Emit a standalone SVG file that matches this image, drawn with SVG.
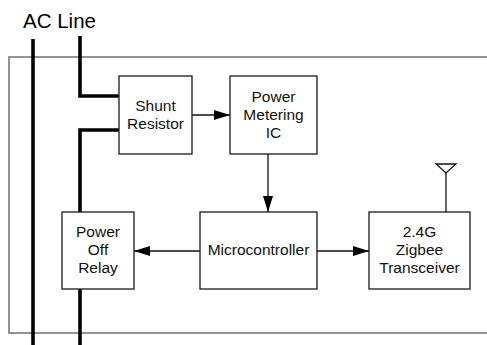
<svg xmlns="http://www.w3.org/2000/svg" width="487" height="345" viewBox="0 0 487 345">
<style>
.box{fill:#fff;stroke:#1a1a1a;stroke-width:1.3}
.t{font-family:"Liberation Sans",Arial,sans-serif;font-size:15.5px;fill:#111;text-anchor:middle}
.w{fill:none;stroke:#000;stroke-width:3.6;stroke-linejoin:miter}
.c{fill:none;stroke:#111;stroke-width:1.3}
</style>
<defs>
<marker id="ah" viewBox="0 0 16 10" refX="16" refY="5" markerWidth="16" markerHeight="10" markerUnits="userSpaceOnUse" orient="auto">
<path d="M0,0 L16,5 L0,10 Z" fill="#000"/>
</marker>
</defs>
<rect width="487" height="345" fill="#fff"/>
<rect x="9" y="57" width="490" height="276" fill="none" stroke="#7a7a7a" stroke-width="1.6"/>
<text x="23" y="28" font-family="Liberation Sans,Arial,sans-serif" font-size="20.5" fill="#000">AC Line</text>
<g id="wires">
<path class="w" d="M33,39 V345"/>
<path class="w" d="M80,36 V96 H119"/>
<path class="w" d="M119,130 H80 V212"/>
<path class="w" d="M80,289 V345"/>
</g>
<g id="connectors">
<path class="c" d="M192,115 H230" marker-end="url(#ah)"/>
<path class="c" d="M268,154 V212" marker-end="url(#ah)"/>
<path class="c" d="M200,251 H134" marker-end="url(#ah)"/>
<path class="c" d="M317,251 H369" marker-end="url(#ah)"/>
</g>
<g id="shunt">
<rect class="box" x="119" y="76" width="73" height="78"/>
<text class="t" x="155.5" y="111">Shunt</text>
<text class="t" x="155.5" y="129">Resistor</text>
</g>
<g id="meter">
<rect class="box" x="230" y="76" width="87" height="78"/>
<text class="t" x="273.5" y="102">Power</text>
<text class="t" x="273.5" y="120">Metering</text>
<text class="t" x="273.5" y="138">IC</text>
</g>
<g id="relay">
<rect class="box" x="62" y="212" width="72" height="77"/>
<text class="t" x="98" y="237">Power</text>
<text class="t" x="98" y="255">Off</text>
<text class="t" x="98" y="273">Relay</text>
</g>
<g id="mcu">
<rect class="box" x="200" y="212" width="117" height="77"/>
<text class="t" x="258.5" y="255">Microcontroller</text>
</g>
<g id="zigbee">
<rect class="box" x="369" y="212" width="101" height="77"/>
<text class="t" x="419.5" y="237">2.4G</text>
<text class="t" x="419.5" y="255">Zigbee</text>
<text class="t" x="419.5" y="273">Transceiver</text>
<path class="c" d="M446,212 V172"/>
<path class="c" d="M436,164 H456 L446,173 Z"/>
</g>
</svg>
